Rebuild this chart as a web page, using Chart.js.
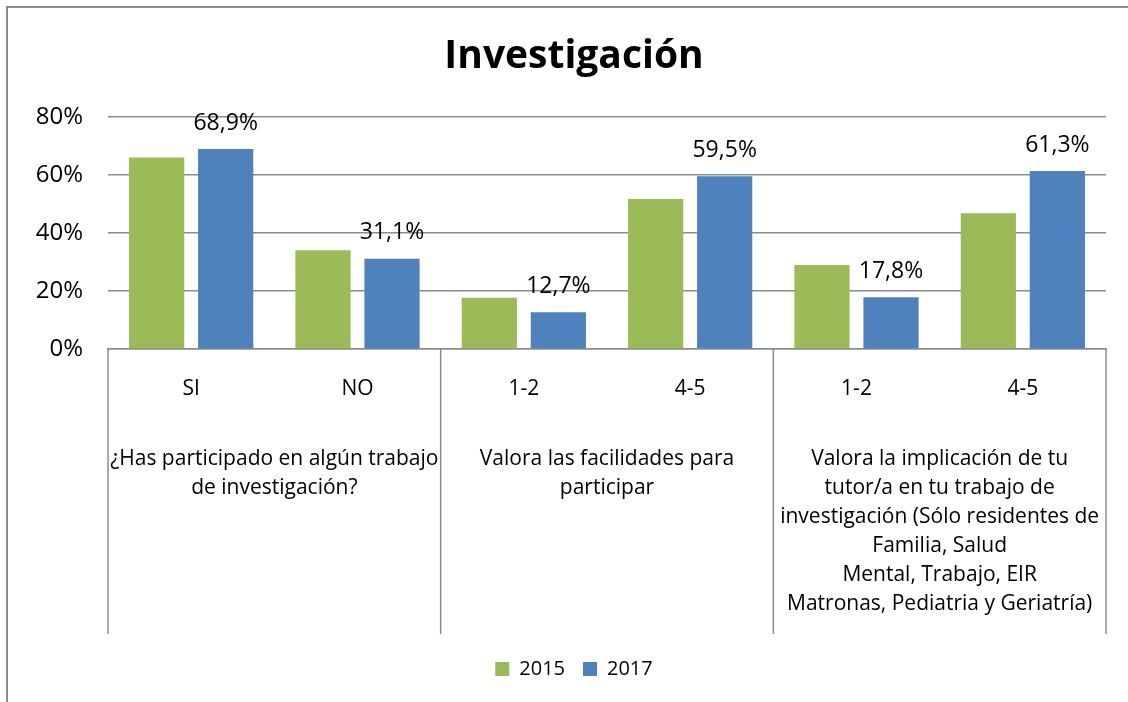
<!DOCTYPE html>
<html>
<head>
<meta charset="utf-8">
<script src="https://cdn.jsdelivr.net/npm/chart.js@4/dist/chart.umd.min.js"></script>
<style>
  html, body { margin: 0; padding: 0; background: #fff; }
  #wrap { position: relative; width: 1128px; height: 702px; }
  #frame { position: absolute; left: 6px; top: 6px; right: 0; bottom: 0;
           border-top: 2px solid #8c8c8c; border-left: 2px solid #8c8c8c; pointer-events: none; }
  canvas { position: absolute; left: 0; top: 0; }
</style>
</head>
<body>
<div id="wrap">
  <canvas id="chart" width="1128" height="702"></canvas>
  <div id="frame"></div>
</div>
<script>
// Data
const categories = ["SI", "NO", "1-2", "4-5", "1-2", "4-5"];
const values2015 = [66, 34, 17.7, 51.7, 28.9, 46.8];
const values2017 = [68.9, 31.1, 12.7, 59.5, 17.8, 61.3];
const yTicks = [0, 20, 40, 60, 80];
const groupLabels = [
    ["¿Has participado en algún trabajo", "de investigación?"],
    ["Valora las facilidades para", "participar"],
    ["Valora la implicación de tu", "tutor/a en tu trabajo de", "investigación (Sólo residentes de", "Familia, Salud", "Mental, Trabajo, EIR", "Matronas, Pediatria y Geriatría)"]
];
const groupSize = 2;

const FONT = "'Open Sans', sans-serif";
const GRID = '#8c8c8c';

// group separators and the long question labels under the category ticks
const groupPlugin = {
    id: 'groups',
    afterDraw(chart) {
        const ctx = chart.ctx;
        const x = chart.scales.x;
        const top = chart.chartArea.bottom;
        const bottom = top + 285;
        const n = categories.length;
        const half = (x.getPixelForValue(1) - x.getPixelForValue(0)) / 2;
        ctx.save();
        ctx.strokeStyle = GRID;
        ctx.lineWidth = 1.5;
        for (let i = 0; i <= n; i += groupSize) {
            const px = i < n ? x.getPixelForValue(i) - half : x.getPixelForValue(n - 1) + half;
            ctx.beginPath();
            ctx.moveTo(px, top);
            ctx.lineTo(px, bottom);
            ctx.stroke();
        }
        ctx.fillStyle = '#000';
        ctx.font = '21px ' + FONT;
        ctx.textAlign = 'center';
        ctx.textBaseline = 'middle';
        groupLabels.forEach((lines, g) => {
            const cx = (x.getPixelForValue(g * groupSize) + x.getPixelForValue(g * groupSize + groupSize - 1)) / 2;
            lines.forEach((line, k) => {
                ctx.fillText(line, cx, top + 110 + k * 29);
            });
        });
        ctx.restore();
    }
};

// value labels for 2017 only
const valueLabelPlugin = {
    id: 'valueLabels',
    afterDatasetsDraw(chart) {
        const ctx = chart.ctx;
        const meta = chart.getDatasetMeta(1);
        ctx.save();
        ctx.fillStyle = '#000';
        ctx.font = '23px ' + FONT;
        ctx.textAlign = 'center';
        ctx.textBaseline = 'middle';
        meta.data.forEach((bar, i) => {
            ctx.fillText(values2017[i].toFixed(1).replace('.', ',') + '%', bar.x, bar.y - 26);
        });
        ctx.restore();
    }
};

new Chart(document.getElementById('chart'), {
    type: 'bar',
    data: {
        labels: categories,
        datasets: [
            { label: '2015', data: values2015, backgroundColor: '#9BBB59', categoryPercentage: 0.83, barPercentage: 0.8 },
            { label: '2017', data: values2017, backgroundColor: '#4F81BD', categoryPercentage: 0.83, barPercentage: 0.8 }
        ]
    },
    options: {
        responsive: false,
        animation: false,
        layout: { padding: { left: 20, right: 0, top: 0, bottom: 13 } },
        plugins: {
            title: {
                display: true,
                text: 'Investigación',
                color: '#000',
                font: { family: FONT, size: 39, weight: 'bold' },
                padding: { top: 33, bottom: 37 }
            },
            legend: {
                position: 'bottom',
                labels: {
                    color: '#000',
                    font: { family: FONT, size: 20 },
                    boxWidth: 14,
                    boxHeight: 14,
                    padding: 18
                }
            },
            tooltip: { enabled: false }
        },
        scales: {
            x: {
                grid: { display: false, drawTicks: false },
                border: { display: true, color: GRID, width: 1.5 },
                ticks: { color: '#000', font: { family: FONT, size: 21 }, padding: 27, maxRotation: 0 },
                afterFit(scale) { scale.height = 292; }
            },
            y: {
                min: 0,
                max: 80,
                afterBuildTicks(scale) { scale.ticks = yTicks.map(v => ({ value: v })); },
                grid: { color: GRID, lineWidth: 1.5, drawTicks: false },
                border: { display: false },
                ticks: { color: '#000', font: { family: FONT, size: 24 }, padding: 25, callback: v => v + '%' },
                afterFit(scale) { scale.width = 88; }
            },
            yRight: {
                position: 'right',
                grid: { display: false, drawTicks: false },
                border: { display: false },
                ticks: { display: false },
                afterFit(scale) { scale.width = 22; }
            }
        }
    },
    plugins: [groupPlugin, valueLabelPlugin]
});
</script>
</body>
</html>
